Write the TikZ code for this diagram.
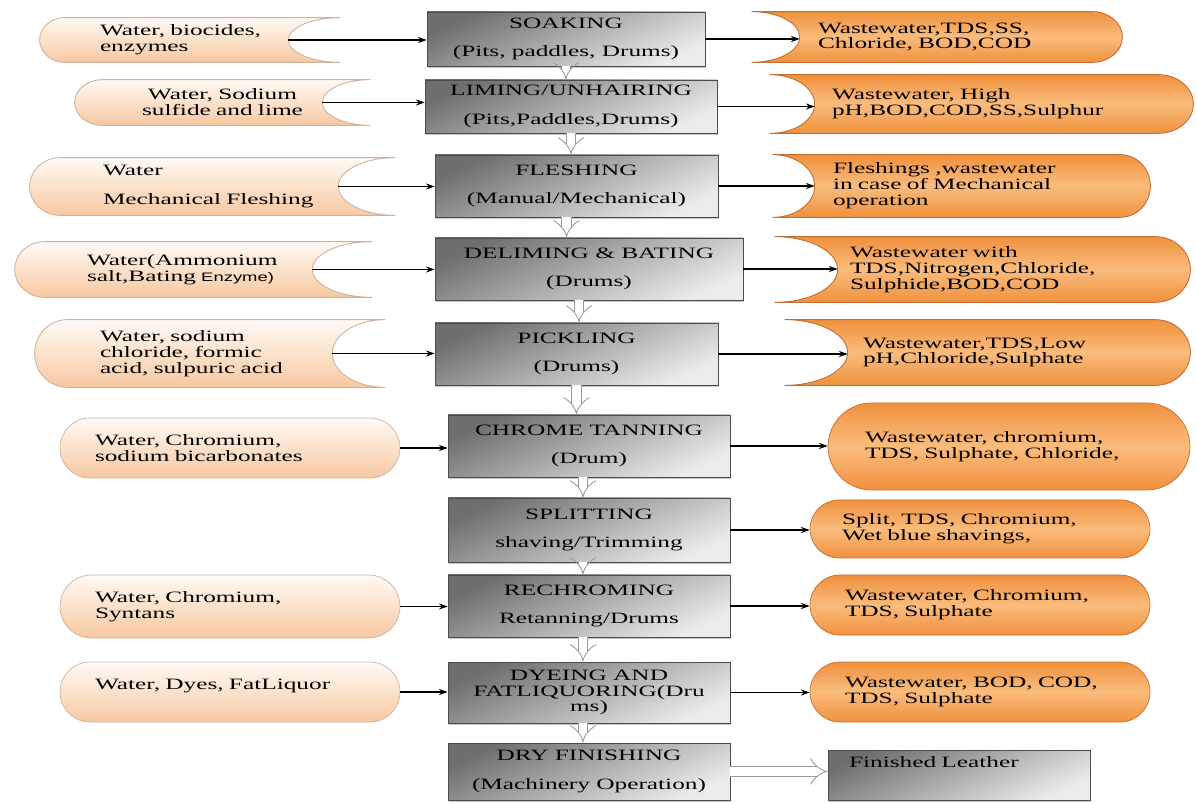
\documentclass[tikz,border=0pt]{standalone}
\usepackage{fontspec}
\setmainfont{Liberation Serif}[FakeStretch=1.6]
\newfontfamily\enzfont{Liberation Sans}[FakeStretch=1.5]
\usepackage{tikz}
\usetikzlibrary{arrows.meta,shapes.misc,positioning,calc,backgrounds,shadows}
\definecolor{procdark}{RGB}{110,110,110}
\definecolor{proclight}{RGB}{236,236,236}
\definecolor{feedtop}{RGB}{255,250,245}
\definecolor{feedpeach}{RGB}{247,200,160}
\definecolor{feededge}{RGB}{205,178,158}
\definecolor{waste}{RGB}{240,145,62}
\definecolor{wastelight}{RGB}{250,188,125}
\definecolor{wasteedge}{RGB}{195,110,50}

% input bubble: round left end, hollow right end
\newcommand{\feedshape}[3]{%
  \path[feedfill] let \p1=(#1.south west), \p2=(#1.north east) in
    (\x1+#2cm,\y2) -- (\x2,\y2)
    arc[start angle=90, end angle=270, x radius=#3cm, y radius={0.5*(\y2-\y1)}]
    -- (\x1+#2cm,\y1)
    arc[start angle=270, end angle=90, x radius=#2cm, y radius={0.5*(\y2-\y1)}]
    -- cycle;
  \coordinate (#1-n) at ($(#1.east)+(-#3,0)$);
}
% output bubble: hollow left end, round right end
\newcommand{\wasteshape}[3]{%
  \path[wastefill] let \p1=(#1.south west), \p2=(#1.north east) in
    (\x1,\y2) -- (\x2-#3cm,\y2)
    arc[start angle=90, end angle=-90, x radius=#3cm, y radius={0.5*(\y2-\y1)}]
    -- (\x1,\y1)
    arc[start angle=-90, end angle=90, x radius=#2cm, y radius={0.5*(\y2-\y1)}]
    -- cycle;
  \coordinate (#1-n) at ($(#1.west)+(#2,0)$);
}

\begin{document}
\begin{tikzpicture}[
    font=\fontsize{9}{9}\selectfont,
    proc/.style={rectangle, draw=black!70, top color=procdark, bottom color=proclight,
                 shading angle=25, align=center, inner sep=2pt, minimum width=5.64cm,
                 drop shadow={shadow xshift=0.6pt, shadow yshift=-1pt, opacity=0.45}},
    feed/.style={rectangle, inner sep=0pt, align=left},
    waste/.style={rectangle, inner sep=0pt, align=left},
    feedpill/.style={rounded rectangle, draw=feededge, top color=feedtop, bottom color=feedpeach,
                     inner sep=0pt, align=left, minimum width=6.8cm, text width=5.4cm},
    wastepill/.style={rounded rectangle, draw=wasteedge, top color=waste, bottom color=waste,
                      middle color=wastelight, inner sep=0pt, align=left, minimum width=6.8cm},
    feedfill/.style={draw=feededge, line width=0.5pt, top color=feedtop, bottom color=feedpeach},
    wastefill/.style={draw=wasteedge, line width=0.5pt, top color=waste, bottom color=waste,
                      middle color=wastelight},
    flow/.style={-{Stealth[length=5pt,width=3.5pt]}, line width=0.6pt},
    pass/.style={draw=black!40, double=white, double distance=5pt, line width=0.5pt, -{Implies}}
]
    \useasboundingbox (0,0) rectangle (23.94,16.08);

    % Process steps
    \node[proc, minimum width=5.56cm, minimum height=1.08cm] (soak) at (11.32,15.30) {SOAKING\\[7pt](Pits, paddles, Drums)};
    \node[proc, minimum width=5.84cm, minimum height=1.06cm] (lime) at (11.42,13.95) {LIMING/UNHAIRING\\[7pt](Pits,Paddles,Drums)};
    \node[proc, minimum width=5.66cm, minimum height=1.24cm] (flesh) at (11.53,12.36) {FLESHING\\[7pt](Manual/Mechanical)};
    \node[proc, minimum width=6.16cm, minimum height=1.24cm] (delime) at (11.78,10.70) {DELIMING \& BATING\\[7pt](Drums)};
    \node[proc, minimum width=5.66cm, minimum height=1.24cm] (pickle) at (11.53,9.00) {PICKLING\\[7pt](Drums)};
    \node[proc, minimum height=1.24cm] (chrome) at (11.78,7.16) {CHROME TANNING\\[7pt](Drum)};
    \node[proc, minimum height=1.28cm] (split) at (11.78,5.48) {SPLITTING\\[7pt]shaving/Trimming};
    \node[proc, minimum height=1.24cm] (rechrome) at (11.78,3.96) {RECHROMING\\[7pt]Retanning/Drums};
    \node[proc, minimum height=1.22cm] (dye) at (11.78,2.23) {DYEING AND\\FATLIQUORING(Dru\\ms)};
    \node[proc, minimum height=1.14cm] (dry) at (11.78,0.65) {DRY FINISHING\\[7pt](Machinery Operation)};
    \node[proc, minimum width=5.24cm, minimum height=1.0cm, text width=4.4cm, align=left,
          text height=6.6pt, text depth=15pt] (finish) at (19.18,0.58) {Finished Leather};

    % Inputs
    \node[feed, minimum width=6.0cm, minimum height=0.88cm, text width=3.6cm] (in1) at (3.80,15.28) {Water, biocides,\\enzymes};
    \node[feed, minimum width=5.9cm, minimum height=0.9cm, text width=3.6cm, align=center] (in2) at (4.45,14.03) {Water, Sodium\\sulfide and lime};
    \node[feed, minimum width=7.3cm, minimum height=1.14cm, text width=4.38cm] (in3) at (4.25,12.35) {Water\\[7pt]Mechanical Fleshing};
    \node[feed, minimum width=7.14cm, minimum height=1.1cm, text width=4.26cm] (in4) at (3.87,10.69) {Water(Ammonium\\salt,Bating {\enzfont\fontsize{7}{9}\selectfont Enzyme)}};
    \node[feed, minimum width=7.0cm, minimum height=1.34cm, text width=4.4cm] (in5) at (4.20,9.01) {Water, sodium\\chloride, formic\\acid, sulpuric acid};
    \node[feedpill, minimum height=1.2cm] (in6) at (4.60,7.12) {Water, Chromium,\\sodium bicarbonates};
    \node[feedpill, minimum height=1.26cm] (in8) at (4.60,3.95) {Water, Chromium,\\Syntans};
    \node[feedpill, minimum height=1.2cm] (in9) at (4.60,2.24) {Water, Dyes, FatLiquor\\\mbox{}};

    % Outputs
    \node[waste, minimum width=7.4cm, minimum height=1.0cm, text width=4.76cm] (out1) at (18.74,15.34) {Wastewater,TDS,SS,\\Chloride, BOD,COD};
    \node[waste, minimum width=8.46cm, minimum height=1.16cm, text width=5.98cm] (out2) at (19.63,14.00) {Wastewater, High\\pH,BOD,COD,SS,Sulphur};
    \node[waste, minimum width=7.54cm, minimum height=1.24cm, text width=5.14cm] (out3) at (19.23,12.36) {Fleshings ,wastewater\\in case of Mechanical\\operation};
    \node[waste, minimum width=8.3cm, minimum height=1.3cm, text width=5.3cm] (out4) at (19.65,10.69) {Wastewater with\\TDS,Nitrogen,Chloride,\\Sulphide,BOD,COD};
    \node[waste, minimum width=8.1cm, minimum height=1.3cm, text width=4.98cm] (out5) at (19.75,9.03) {Wastewater,TDS,Low\\pH,Chloride,Sulphate};
    \node[wastepill, minimum width=7.24cm, minimum height=1.74cm, text width=5.76cm] (out6) at (20.18,7.15) {Wastewater, chromium,\\TDS, Sulphate, Chloride,};
    \node[wastepill, minimum height=1.16cm, text width=5.52cm] (out7) at (19.60,5.50) {Split, TDS, Chromium,\\Wet blue shavings,};
    \node[wastepill, minimum height=1.2cm, text width=5.4cm] (out8) at (19.60,3.98) {Wastewater, Chromium,\\TDS, Sulphate};
    \node[wastepill, minimum height=1.2cm, text width=5.4cm] (out9) at (19.60,2.24) {Wastewater, BOD, COD,\\TDS, Sulphate};

    % Bubble outlines
    \begin{scope}[on background layer]
        \feedshape{in1}{0.5}{1.04}
        \feedshape{in2}{0.55}{0.96}
        \feedshape{in3}{0.6}{1.14}
        \feedshape{in4}{0.6}{1.2}
        \feedshape{in5}{0.65}{1.06}
        \wasteshape{out1}{0.96}{0.6}
        \wasteshape{out2}{0.9}{0.7}
        \wasteshape{out3}{0.84}{0.6}
        \wasteshape{out4}{1.26}{0.7}
        \wasteshape{out5}{1.26}{0.7}
    \end{scope}

    % Inputs into steps
    \draw[flow] (in1-n) -- (in1-n -| soak.west);
    \draw[flow] (in2-n) -- (in2-n -| lime.west);
    \draw[flow] (in3-n) -- (in3-n -| flesh.west);
    \draw[flow] (in4-n) -- (in4-n -| delime.west);
    \draw[flow] (in5-n) -- (in5-n -| pickle.west);
    \draw[flow] (in6.east) -- (in6.east -| chrome.west);
    \draw[flow] (in8.east) -- (in8.east -| rechrome.west);
    \draw[flow] (in9.east) -- (in9.east -| dye.west);

    % Steps into outputs
    \draw[flow] (soak.east) -- (soak.east -| out1-n);
    \draw[flow] (lime.east) -- (lime.east -| out2-n);
    \draw[flow] (flesh.east) -- (flesh.east -| out3-n);
    \draw[flow] (delime.east) -- (delime.east -| out4-n);
    \draw[flow] (pickle.east) -- (pickle.east -| out5-n);
    \draw[flow] (chrome.east) -- (chrome.east -| out6.west);
    \draw[flow] (split.east) -- (split.east -| out7.west);
    \draw[flow] (rechrome.east) -- (rechrome.east -| out8.west);
    \draw[flow] (dye.east) -- (dye.east -| out9.west);

    % Step to step
    \draw[pass] (soak.south) -- (soak.south |- lime.north);
    \draw[pass] (lime.south) -- (lime.south |- flesh.north);
    \draw[pass] ([xshift=-0.2cm]flesh.south) -- ([xshift=-0.2cm]flesh.south |- delime.north);
    \draw[pass] ([xshift=-0.2cm]delime.south) -- ([xshift=-0.2cm]delime.south |- pickle.north);
    \draw[pass] (pickle.south) -- (pickle.south |- chrome.north);
    \draw[pass] ([xshift=-0.12cm]chrome.south) -- ([xshift=-0.12cm]chrome.south |- split.north);
    \draw[pass] ([xshift=-0.12cm]split.south) -- ([xshift=-0.12cm]split.south |- rechrome.north);
    \draw[pass] ([xshift=-0.12cm]rechrome.south) -- ([xshift=-0.12cm]rechrome.south |- dye.north);
    \draw[pass] ([xshift=-0.12cm]dye.south) -- ([xshift=-0.12cm]dye.south |- dry.north);
    \draw[pass] (dry.east) -- (dry.east -| finish.west);
\end{tikzpicture}
\end{document}
